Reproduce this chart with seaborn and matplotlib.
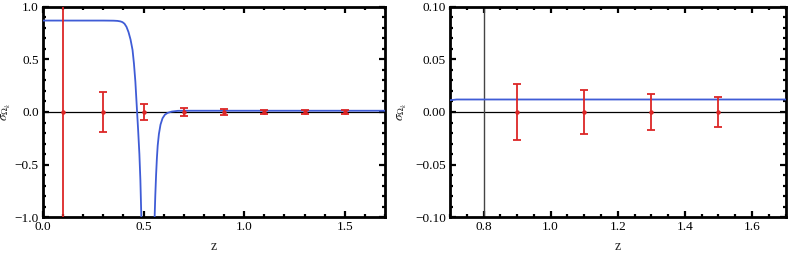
import matplotlib
matplotlib.use("Agg")
import matplotlib.pyplot as plt
import seaborn as sns
import numpy as np
import pandas as pd
from matplotlib.ticker import MultipleLocator, FuncFormatter

# ---- data ----
curve_z = [0.0, 0.30, 0.35, 0.37, 0.385, 0.395, 0.405, 0.415, 0.425, 0.435, 0.445, 0.452,
           0.459, 0.467, 0.473, 0.479, 0.484, 0.488,
           0.495, 0.548, 0.554, 0.558, 0.562, 0.566, 0.570, 0.576, 0.584, 0.594, 0.606,
           0.620, 0.640, 0.670, 0.700, 1.70]
curve_s = [0.87, 0.87, 0.869, 0.867, 0.862, 0.855, 0.84, 0.81, 0.76, 0.69, 0.59, 0.46,
           0.29, 0.02, -0.18, -0.40, -0.65, -0.95,
           -1.6, -1.6, -1.05, -0.80, -0.60, -0.44, -0.32, -0.21, -0.12, -0.06, -0.025,
           -0.008, 0.004, 0.011, 0.012, 0.012]

pts_z = [0.1, 0.3, 0.5, 0.7, 0.9, 1.1, 1.3, 1.5]
pts_val = [0.0, 0.0, 0.0, 0.0, 0.0, 0.0, 0.0, 0.0]
pts_err = [1.5, 0.19, 0.076, 0.041, 0.0271, 0.021, 0.0168, 0.0145]

right_pts_z = [0.9, 1.1, 1.3, 1.5]
right_curve_z = [0.70, 0.72, 1.70]
right_curve_s = [0.0112, 0.0119, 0.0119]
right_vline = 0.8

xlabel = "z"
ylabel = r"$\sigma_{\Omega_k}$"

# ---- style ----
sns.set_style("ticks")
plt.rcParams['font.family'] = ['Liberation Serif', 'DejaVu Serif']
plt.rcParams['mathtext.fontset'] = 'stix'

blue = "#3f5cd6"
red = "#dc2626"

fig = plt.figure(figsize=(7.88, 2.56), dpi=100)
axL = fig.add_axes([0.0546, 0.152, 0.434, 0.821])
axR = fig.add_axes([0.571, 0.152, 0.426, 0.821])

curve_df = pd.DataFrame({"z": curve_z, "s": curve_s})
pts_df = pd.DataFrame({"z": pts_z, "v": pts_val, "e": pts_err})
rpts_df = pts_df[pts_df["z"].isin(right_pts_z)]
rcurve_df = pd.DataFrame({"z": right_curve_z, "s": right_curve_s})


def style(ax, xmaj, xmin, ymaj, ymin, xlim, ylim, ylab_x):
    ax.set_xlim(*xlim)
    ax.set_ylim(*ylim)
    ax.xaxis.set_major_locator(MultipleLocator(xmaj))
    ax.xaxis.set_minor_locator(MultipleLocator(xmin))
    ax.yaxis.set_major_locator(MultipleLocator(ymaj))
    ax.yaxis.set_minor_locator(MultipleLocator(ymin))
    ax.tick_params(which='both', direction='in', top=True, right=True,
                   colors='black', labelsize=9.5, width=1.6, pad=3)
    ax.tick_params(which='major', length=4)
    ax.tick_params(which='minor', length=2.5)
    for sp in ax.spines.values():
        sp.set_visible(True)
        sp.set_linewidth(2.0)
        sp.set_color('black')
    ax.set_xlabel(xlabel, fontsize=10, labelpad=5)
    ax.set_ylabel(ylabel, fontsize=9.5)
    ax.yaxis.set_label_coords(ylab_x, 0.5)


# Left panel
axL.axhline(0, color='black', lw=0.9, zorder=1)
sns.lineplot(data=curve_df, x="z", y="s", ax=axL, color=blue, lw=1.3, sort=False, zorder=3)
axL.errorbar(pts_df["z"], pts_df["v"], yerr=pts_df["e"], fmt='o', ms=2.2,
             color=red, ecolor=red, elinewidth=1.3, capsize=2.6, capthick=1.3, zorder=4)
style(axL, 0.5, 0.1, 0.5, 0.1, (0, 1.7), (-1, 1), -0.088)
axL.yaxis.set_major_formatter(FuncFormatter(lambda v, p: f"{v:.1f}".replace("-", "\u2212")))
axL.xaxis.set_major_formatter(FuncFormatter(lambda v, p: f"{v:.1f}"))

# Right panel
axR.axhline(0, color='black', lw=0.9, zorder=1)
axR.axvline(right_vline, color='#444444', lw=1.0, zorder=1)
sns.lineplot(data=rcurve_df, x="z", y="s", ax=axR, color=blue, lw=1.3, sort=False, zorder=3)
axR.errorbar(rpts_df["z"], rpts_df["v"], yerr=rpts_df["e"], fmt='o', ms=2.2,
             color=red, ecolor=red, elinewidth=1.3, capsize=2.6, capthick=1.3, zorder=4)
style(axR, 0.2, 0.05, 0.05, 0.01, (0.7, 1.7), (-0.1, 0.1), -0.122)
axR.yaxis.set_major_formatter(FuncFormatter(lambda v, p: f"{v:.2f}".replace("-", "\u2212")))
axR.xaxis.set_major_formatter(FuncFormatter(lambda v, p: f"{v:.1f}"))

fig.savefig("out.png", dpi=100)
